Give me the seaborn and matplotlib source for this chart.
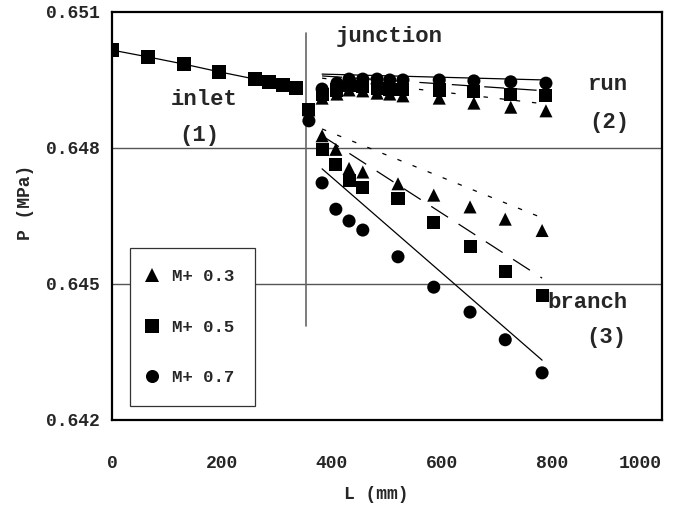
import matplotlib
matplotlib.use("Agg")
import matplotlib.pyplot as plt
from matplotlib.lines import Line2D
from matplotlib.ticker import FormatStrFormatter
import pandas as pd
import seaborn as sns

# Inlet pipe (1): pressure along the straight run before the junction
inlet_L = [0, 65, 131, 195, 260, 285, 311, 335]
inlet_P = [0.65016, 0.65001, 0.64985, 0.64968, 0.64952, 0.64946, 0.64939, 0.64932]

mach = ["0.3", "0.5", "0.7"]

# First tap just downstream of the junction
junction_L = 358
junction_P = [0.64884, 0.64884, 0.64860]

# Run pipe (2)
run_L = [382, 409, 431, 456, 482, 505, 529, 595, 658, 725, 789]
run_P_03 = [0.64910, 0.64919, 0.64928, 0.64926, 0.64921, 0.64919, 0.64915, 0.64910, 0.64899, 0.64890, 0.64882]
run_P_05 = [0.64917, 0.64928, 0.64937, 0.64935, 0.64932, 0.64930, 0.64930, 0.64928, 0.64924, 0.64919, 0.64915]
run_P_07 = [0.64930, 0.64943, 0.64952, 0.64952, 0.64952, 0.64950, 0.64950, 0.64950, 0.64948, 0.64946, 0.64943]

# Branch pipe (3)
branch_L = [382, 407, 431, 456, 520, 585, 651, 715, 782]
branch_P_03 = [0.64827, 0.64797, 0.64755, 0.64747, 0.64721, 0.64696, 0.64670, 0.64643, 0.64618]
branch_P_05 = [0.64796, 0.64763, 0.64729, 0.64712, 0.64688, 0.64635, 0.64582, 0.64527, 0.64474]
branch_P_07 = [0.64723, 0.64665, 0.64639, 0.64619, 0.64560, 0.64493, 0.64438, 0.64377, 0.64304]

# Predicted pressure lines
run_fit_L = [382, 789]
run_fit_03 = [0.64954, 0.64897]
run_fit_05 = [0.64959, 0.64926]
run_fit_07 = [0.64963, 0.64950]
branch_fit_L = [382, 782]
branch_fit_03 = [0.64842, 0.64646]
branch_fit_05 = [0.64827, 0.64513]
branch_fit_07 = [0.64754, 0.64332]

sns.set_style("white")
plt.rcParams["font.family"] = ["Liberation Mono", "DejaVu Sans Mono"]
plt.rcParams["font.weight"] = "bold"

point_rows = []
for m, jp, rp, bp in zip(mach, junction_P, [run_P_03, run_P_05, run_P_07],
                         [branch_P_03, branch_P_05, branch_P_07]):
    point_rows.append({"L": junction_L, "P": jp, "M": m})
    point_rows += [{"L": l, "P": p, "M": m} for l, p in zip(run_L, rp)]
    point_rows += [{"L": l, "P": p, "M": m} for l, p in zip(branch_L, bp)]
points = pd.DataFrame(point_rows)

fit_rows = []
for m, rf, bf in zip(mach, [run_fit_03, run_fit_05, run_fit_07],
                     [branch_fit_03, branch_fit_05, branch_fit_07]):
    fit_rows += [{"L": l, "P": p, "M": m, "leg": "run"} for l, p in zip(run_fit_L, rf)]
    fit_rows += [{"L": l, "P": p, "M": m, "leg": "branch"} for l, p in zip(branch_fit_L, bf)]
fits = pd.DataFrame(fit_rows)

markers = {"0.3": "^", "0.5": "s", "0.7": "o"}
dashes = {"0.3": (3.5, 9.5), "0.5": (16, 10), "0.7": ""}
msize = 9.4

fig, ax = plt.subplots(figsize=(6.73, 5.12), dpi=100)
fig.subplots_adjust(left=112 / 673, right=662 / 673, top=1 - 12 / 512, bottom=1 - 420 / 512)

ax.axhline(0.648, color="#555555", lw=1.0, zorder=1)
ax.axhline(0.645, color="#555555", lw=1.0, zorder=1)
ax.plot([353, 353], [0.65054, 0.64407], color="#666666", lw=1.2, zorder=1)

sns.lineplot(data=fits, x="L", y="P", style="M", units="leg", estimator=None,
             dashes=dashes, color="black", lw=0.9, legend=False, ax=ax, zorder=2)
sns.lineplot(x=inlet_L, y=inlet_P, color="black", lw=0.9, marker="s",
             markersize=msize, markeredgewidth=0, ax=ax, zorder=3)
sns.scatterplot(data=points, x="L", y="P", style="M", markers=markers,
                color="black", s=msize ** 2, edgecolor="none", legend=False,
                ax=ax, zorder=3)

ax.set_xlim(0, 1000)
ax.set_ylim(0.642, 0.651)
ax.set_xticks(range(0, 1001, 200))
ax.set_yticks([0.642, 0.645, 0.648, 0.651])
ax.yaxis.set_major_formatter(FormatStrFormatter("%.3f"))
ax.tick_params(axis="x", direction="in", length=7, width=1, pad=25,
               labelsize=13, color="black")
ax.tick_params(axis="y", length=0, pad=9, labelsize=13)
for s in ax.spines.values():
    s.set_color("black")
    s.set_linewidth(1.6)
# keep the last x label inside the figure edge
ax.get_xticklabels()[-1].set_horizontalalignment("right")

ax.set_xlabel("L (mm)", fontsize=13, fontweight="bold")
ax.set_ylabel("P (MPa)", fontsize=13, fontweight="bold")
ax.xaxis.set_label_coords(0.48, -0.162)
ax.yaxis.set_label_coords(-0.142, 0.534)

txt = dict(fontsize=16, fontweight="bold", ha="center", va="center")
ax.text(504, 0.65045, "junction", **txt)
ax.text(167, 0.64906, "inlet", **txt)
ax.text(158, 0.64827, "(1)", **txt)
ax.text(902, 0.64939, "run", **txt)
ax.text(905, 0.64857, "(2)", **txt)
ax.text(865, 0.64460, "branch", **txt)
ax.text(898, 0.64381, "(3)", **txt)

handles = [Line2D([], [], ls="none", marker=markers[m], color="black",
                  markersize=msize, markeredgewidth=0) for m in mach]
labels = [f"M+ {m}" for m in mach]
leg = ax.legend(handles, labels, loc="upper left", bbox_to_anchor=(0.0327, 0.4216),
                borderaxespad=0, borderpad=1.2, handlelength=0.1, handletextpad=1.1,
                labelspacing=2.05, fancybox=False, framealpha=1, edgecolor="#333333",
                prop={"size": 12.5, "weight": "bold"})
leg.get_frame().set_linewidth(0.9)

fig.savefig("out.png", dpi=100)
